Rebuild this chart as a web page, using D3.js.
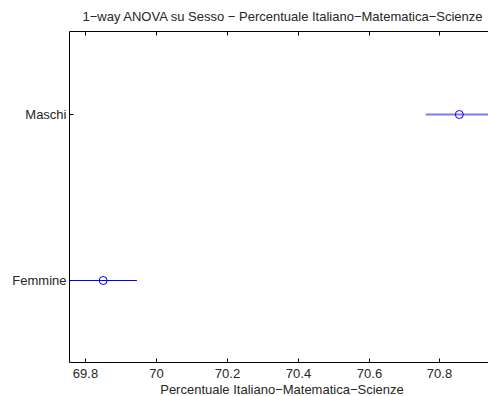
<!DOCTYPE html>
<html><head><meta charset="utf-8">
<script src="https://cdn.jsdelivr.net/npm/d3@7"></script>
<style>body{margin:0;background:#fff}svg{display:block}text{font-family:"Liberation Sans",Arial,sans-serif;fill:#262626}</style>
</head><body><svg id="c" width="488" height="396"></svg>
<script>
const groups = ["Femmine", "Maschi"];
const means = [69.852, 70.856];
const halfWidths = [0.095, 0.095];
const xTicks = [69.8, 70, 70.2, 70.4, 70.6, 70.8];
const title = "1\u2212way ANOVA su Sesso \u2212 Percentuale Italiano\u2212Matematica\u2212Scienze";
const xLabel = "Percentuale Italiano\u2212Matematica\u2212Scienze";

const svg = d3.select("#c");
const L = 69.5, R = 493, T = 31.5, B = 362.5;
const FS = 13;
const x = d3.scaleLinear().domain([69.757, 70.951]).range([L, R]);
const y = d3.scaleLinear().domain([0.5, 2.5]).range([B, T]);

// ticks top and bottom (inward)
const tl = 4;
xTicks.forEach(v => {
  const px = Math.round(x(v)) + 0.5;
  svg.append("line").attr("x1", px).attr("x2", px).attr("y1", B).attr("y2", B - tl).attr("stroke", "#000");
  svg.append("line").attr("x1", px).attr("x2", px).attr("y1", T).attr("y2", T + tl).attr("stroke", "#000");
  svg.append("text").attr("x", px).attr("y", 377.5).attr("text-anchor", "middle").attr("font-size", FS).text(d3.format("")(v));
});
groups.forEach((g, i) => {
  const py = Math.round(y(i + 1)) + 0.5;
  svg.append("line").attr("x1", L).attr("x2", L + tl).attr("y1", py).attr("y2", py).attr("stroke", "#000");
  svg.append("text").attr("x", L - 3).attr("y", py + 4.5).attr("text-anchor", "end").attr("font-size", FS).text(g);
});

// intervals
groups.forEach((g, i) => {
  const py = i === 1 ? y(i + 1) + 0.25 : Math.round(y(i + 1)) + 0.5;
  svg.append("line")
    .attr("x1", x(means[i] - halfWidths[i])).attr("x2", x(means[i] + halfWidths[i]))
    .attr("y1", py).attr("y2", py)
    .attr("stroke", i === 1 ? "#7a7aff" : "#0000ff").attr("stroke-width", i === 1 ? 2 : 1);
  svg.append("circle").attr("cx", x(means[i])).attr("cy", py).attr("r", 4)
    .attr("fill", "none").attr("stroke", "#0000ff").attr("stroke-width", 1);
});

// axes box (left, top, bottom)
svg.append("path").attr("d", `M${R},${T}H${L}V${B}H${R}`).attr("fill", "none").attr("stroke", "#000");

svg.append("text").attr("x", 282.5).attr("y", 21).attr("text-anchor", "middle").attr("font-size", FS).text(title);
svg.append("text").attr("x", 282).attr("y", 394).attr("text-anchor", "middle").attr("font-size", FS).text(xLabel);
</script></body></html>
